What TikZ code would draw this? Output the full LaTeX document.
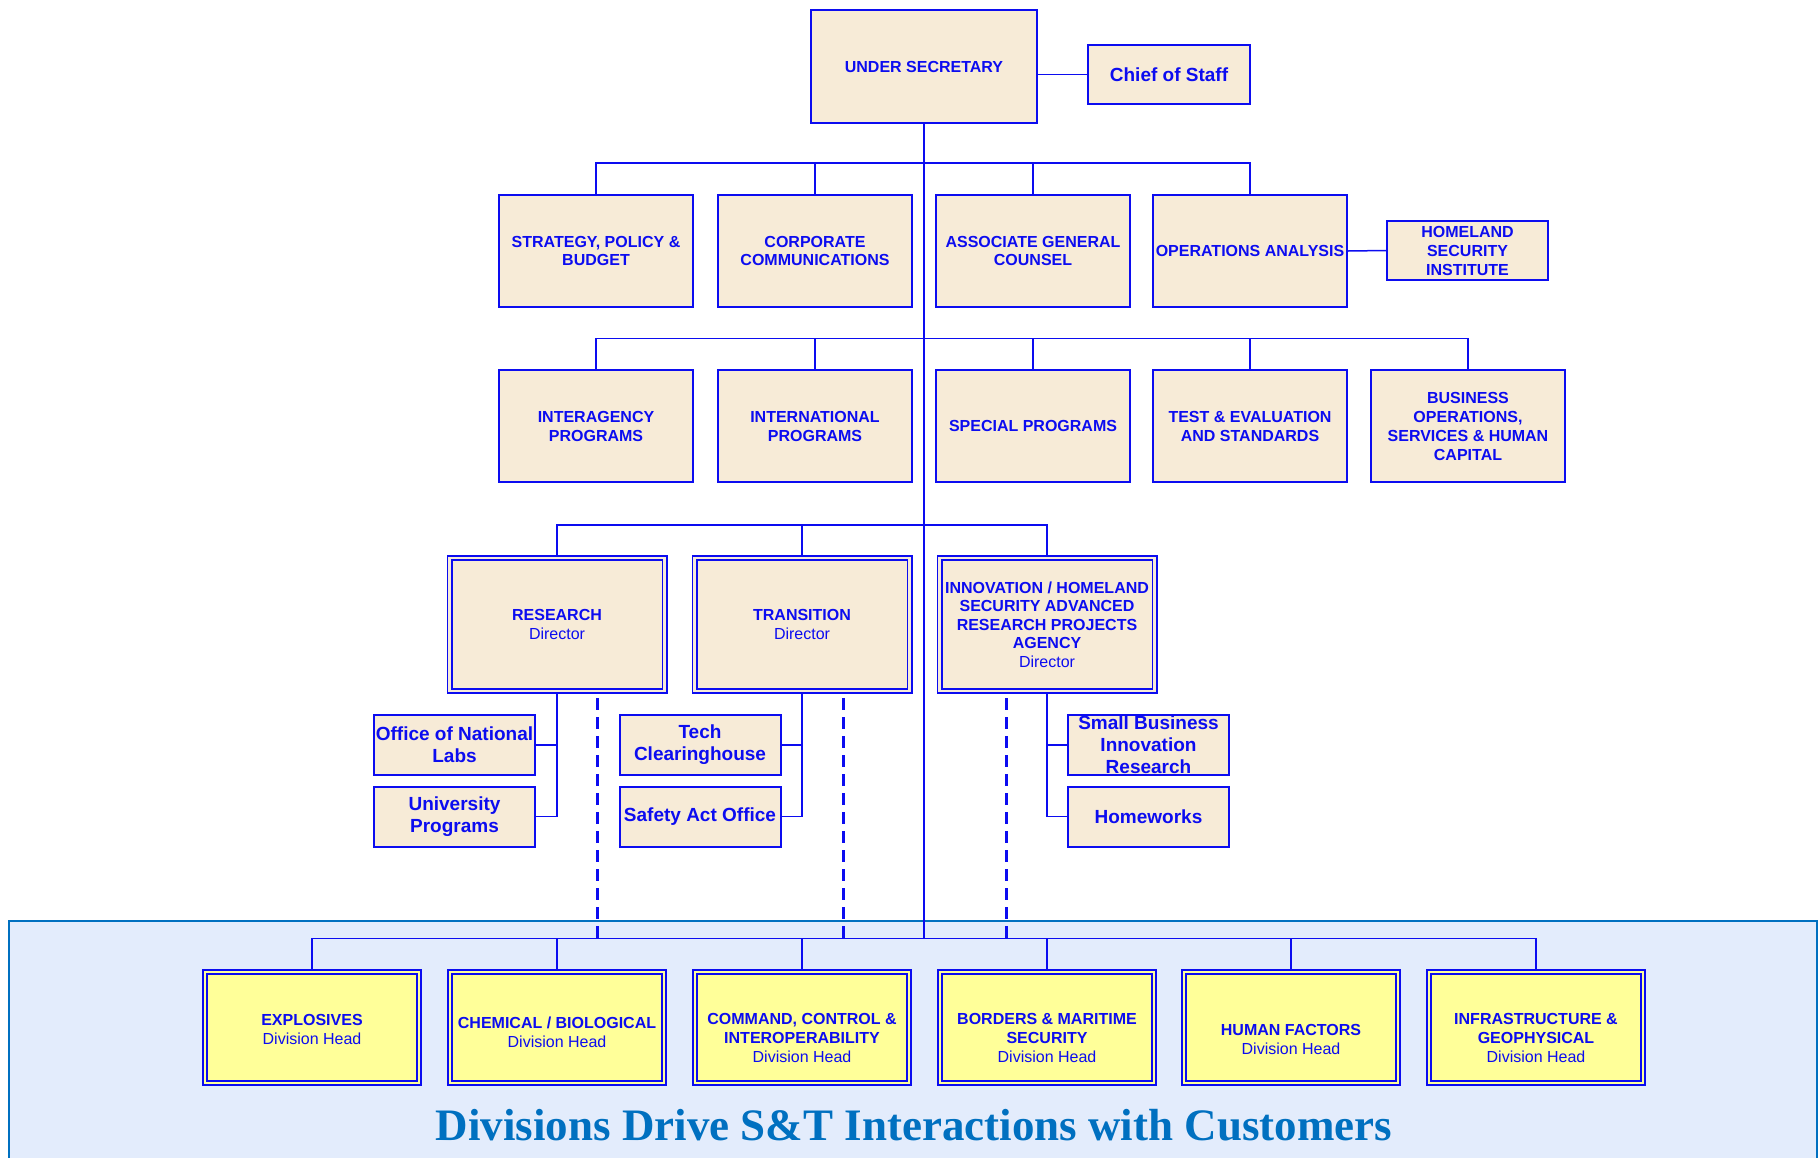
\documentclass[tikz,border=0pt]{standalone}
\usepackage{fontspec}
\setmainfont{Liberation Sans}
\newfontfamily\headfont{Liberation Serif}
\usepackage{xcolor}
\usetikzlibrary{calc}
\definecolor{orgblue}{RGB}{12,12,240}
\definecolor{boxtan}{RGB}{247,235,215}
\definecolor{divyellow}{RGB}{255,255,153}
\definecolor{panelblue}{RGB}{227,236,252}
\definecolor{titleblue}{RGB}{0,112,192}

\begin{document}
\begin{tikzpicture}
    [x=1pt,y=-1pt,
    officebox/.style={rectangle, draw=orgblue, line width=2pt, fill=boxtan, text=orgblue, align=center, inner sep=1pt, minimum width=194pt, minimum height=112pt, font=\fontsize{16}{18.5}\selectfont\bfseries},
    subbox/.style={officebox, minimum width=161pt, minimum height=60pt, font=\fontsize{19}{22}\selectfont\bfseries},
    dirbox/.style={officebox, line width=1.7pt, double=boxtan, double distance=2.6pt, outer sep=3pt, minimum width=215pt, minimum height=133pt},
    divbox/.style={dirbox, double=divyellow, fill=divyellow, minimum width=214pt, minimum height=111pt},
    divtext/.style={text=orgblue, align=center, inner sep=0pt, font=\fontsize{16}{19}\selectfont\bfseries},
    link/.style={draw=orgblue, line width=1.5pt},
    feed/.style={draw=orgblue, line width=3pt, dash pattern=on 12pt off 7pt}]
    \useasboundingbox (0,0) rectangle (1818,1157);
    \fill[panelblue] (9,921) rectangle (1817,1160);
    \draw[titleblue, line width=2pt] (9,1160) -- (9,921) -- (1817,921) -- (1817,1160);

    \node(usec)[officebox, minimum width=226pt, minimum height=113pt] at (924,66.5) {UNDER SECRETARY};
    \node(cos)[officebox, minimum width=162pt, minimum height=59pt, font=\fontsize{19}{22}\selectfont\bfseries] at (1169,74.5) {Chief of Staff};
    \draw[link] (cos.west) -- (cos.west -| usec.east);

    \coordinate(b1) at (924,163);
    \coordinate(b2) at (924,338.5);
    \coordinate(b3) at (924,525);
    \coordinate(b4) at (924,938.5);
    \draw[link, line width=2pt] (usec.south) -- (b4);

    \foreach \n/\x/\t in {spb/596/{STRATEGY, POLICY \&\\BUDGET},cc/815/{CORPORATE\\COMMUNICATIONS},agc/1033/{ASSOCIATE GENERAL\\COUNSEL},oa/1250/{OPERATIONS ANALYSIS}}{
        \node(\n)[officebox] at (\x,251) {\t};
        \draw[link] (\n.north) |- (b1);
    }
    \node(hsi)[officebox, minimum width=161pt, minimum height=59pt, font=\fontsize{16}{19}\selectfont\bfseries] at (1467.5,250.5) {HOMELAND\\SECURITY\\INSTITUTE};
    \draw[link] (oa.east) -- (hsi.west);

    \foreach \n/\x/\t in {iap/596/{INTERAGENCY\\PROGRAMS},inp/815/{INTERNATIONAL\\PROGRAMS},spp/1033/{SPECIAL PROGRAMS},tes/1250/{TEST \& EVALUATION\\AND STANDARDS},bos/1468/{BUSINESS\\OPERATIONS,\\SERVICES \& HUMAN\\CAPITAL}}{
        \node(\n)[officebox, font=\fontsize{16}{19}\selectfont\bfseries] at (\x,426) {\t};
        \draw[link] (\n.north) |- (b2);
    }

    \foreach \n/\x/\t in {res/557/{RESEARCH},tra/802/{TRANSITION},inn/1047/{INNOVATION / HOMELAND\\SECURITY ADVANCED\\RESEARCH PROJECTS\\AGENCY}}{
        \node(\n)[dirbox] at (\x,624.5) {\t\\{\mdseries Director}};
        \draw[link] (\n.north) |- (b3);
    }

    \foreach \n/\p/\a/\x/\y/\t in {onl/res/east/454.5/745/{Office of National\\Labs},unp/res/east/454.5/816.5/{University\\Programs},tch/tra/east/700/745/{Tech\\Clearinghouse},sao/tra/east/700/816.5/{Safety Act Office},sbir/inn/west/1148.5/745/{Small Business\\Innovation\\Research},hw/inn/west/1148.5/816.5/{Homeworks}}{
        \node(\n)[subbox] at (\x,\y) {\t};
        \draw[link] (\p.south) |- (\n.\a);
    }

    \foreach \c/\x in {dres/597,dtra/843,dinn/1006}{
        \coordinate(\c) at (\x,698);
        \draw[feed] (\c) -- (\c |- b4);
    }

    \foreach \n/\x/\s/\t in {exp/312/2/{EXPLOSIVES},cb/557/5/{CHEMICAL / BIOLOGICAL},cci/802/10/{COMMAND, CONTROL \&\\INTEROPERABILITY},bms/1047/10/{BORDERS \& MARITIME\\SECURITY},hf/1291/12/{HUMAN FACTORS},ig/1536/10/{INFRASTRUCTURE \&\\GEOPHYSICAL}}{
        \node(\n)[divbox] at (\x,1027.5) {};
        \node(\n-t)[divtext] at ($(\n.center)+(0,\s)$) {\t\\{\mdseries Division Head}};
        \draw[link] (\n.north) |- (b4);
    }

    \node(motto)[font=\headfont\bfseries\fontsize{45}{50}\selectfont, text=titleblue, anchor=base, inner sep=0pt] at (914,1140) {Divisions Drive S\&T Interactions with Customers};
\end{tikzpicture}
\end{document}
